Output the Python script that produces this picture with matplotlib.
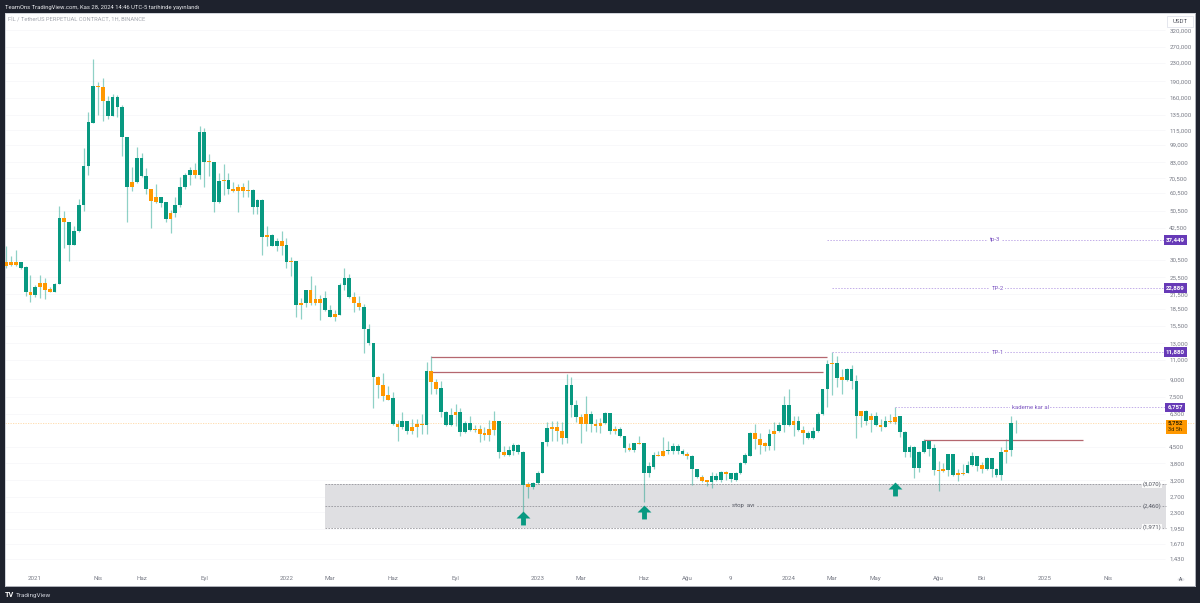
import matplotlib
matplotlib.use("Agg")
import matplotlib.pyplot as plt
from matplotlib.path import Path
from matplotlib.patches import Rectangle, Circle
from matplotlib.ticker import FixedLocator, NullLocator, FuncFormatter

plt.rcParams['font.family'] = ['Roboto', 'DejaVu Sans']

# weekly candles, prices in thousands
highs_k = [
 35.2,31.8,33.8,29.9,28.7,26.2,23.7,26.2,25.4,23.2,
 24.2,53.2,50.6,44.8,43.0,57.2,96.2,138.9,238.8,188.8,
 196.7,163.6,167.0,165.3,149.3,107.6,79.2,97.1,91.3,78.4,
 63.3,66.6,58.4,55.5,50.9,58.4,71.5,74.5,79.2,82.5,
 120.4,118.0,90.4,83.4,74.5,81.7,74.5,68.0,66.6,67.3,
 69.2,63.3,57.2,57.2,43.0,39.9,38.3,41.1,38.3,31.5,
 30.2,20.7,22.5,25.9,23.7,21.4,22.3,19.3,18.3,24.2,
 28.1,26.5,22.0,21.2,19.5,15.89,13.09,9.26,9.55,8.36,
 7.87,5.93,6.40,5.89,5.99,5.99,6.29,10.7,11.4,9.05,
 8.82,6.51,6.67,6.97,6.67,5.89,6.15,5.63,5.63,5.5,
 5.93,6.53,5.89,4.56,4.53,4.69,4.65,4.31,3.15,3.15,
 3.51,4.72,5.79,5.89,5.89,5.79,9.52,9.2,7.29,6.29,
 7.58,6.51,5.99,6.03,6.4,6.36,5.56,5.5,5.05,4.67,
 4.69,5.02,4.67,3.86,4.26,4.33,4.96,4.8,4.69,4.65,
 4.41,4.29,4.15,3.6,3.37,3.2,3.49,3.43,3.51,3.51,
 3.45,3.49,3.86,4.24,5.22,5.69,5.17,4.75,5.43,5.79,
 5.83,7.58,8.11,6.15,6.19,5.6,5.31,5.5,6.44,8.16,
 10.9,11.87,11.4,9.97,10.12,10.42,9.36,6.51,6.56,6.36,
 6.4,5.99,6.19,6.29,6.74,6.15,5.28,4.6,4.53,4.33,
 4.89,4.84,4.65,3.88,3.82,4.2,4.2,3.6,3.79,3.88,
 4.29,4.12,3.86,4.05,4.0,3.64,4.48,4.89,6.15,5.95]

body_top_k = [
 29.9,29.9,29.9,29.9,28.4,22.0,23.2,24.2,24.2,22.7,
 23.9,47.1,47.1,44.8,41.1,53.8,80.0,125.4,181.3,181.3,
 179.4,155.5,162.0,162.0,146.3,107.6,68.0,86.8,86.8,72.2,
 63.3,58.4,58.4,55.5,49.1,53.8,64.6,73.0,76.7,76.7,
 113.2,113.2,84.2,83.4,68.7,69.2,69.2,63.3,64.6,64.6,
 62.5,62.5,56.4,56.4,39.5,39.5,37.1,37.1,35.6,30.2,
 30.2,19.7,22.5,22.5,20.5,20.5,20.7,18.3,17.6,23.7,
 25.4,25.4,20.9,19.7,18.9,15.1,13.09,9.17,8.44,7.63,
 7.4,5.69,5.85,5.85,5.52,5.69,5.69,9.75,9.75,8.77,
 8.19,6.4,6.25,6.4,6.4,5.73,5.73,5.43,5.43,5.17,
 5.38,5.85,5.85,4.29,4.37,4.6,4.6,4.29,3.08,3.12,
 3.46,4.72,5.46,5.52,5.52,5.31,8.44,8.44,6.9,6.11,
 6.27,6.27,5.71,5.77,6.36,6.36,5.42,5.43,5.04,4.47,
 4.67,4.69,4.67,3.69,4.14,4.15,4.33,4.37,4.56,4.56,
 4.32,4.17,4.12,3.59,3.32,3.19,3.35,3.35,3.49,3.49,
 3.43,3.45,3.82,4.14,5.17,5.17,4.89,4.66,5.15,5.3,
 5.63,6.92,6.92,5.85,5.85,5.34,5.19,5.31,6.29,8.11,
 10.5,10.64,10.64,9.17,9.95,9.95,8.82,6.47,6.47,6.17,
 6.15,5.63,5.87,5.89,6.13,6.15,5.26,4.5,4.5,4.28,
 4.8,4.8,4.46,3.55,3.57,4.17,4.19,3.43,3.46,3.75,
 4.1,4.1,3.72,4.0,4.0,3.6,4.28,4.35,5.75,5.75]

body_bottom_k = [
 28.7,29.0,29.0,28.1,22.0,21.4,21.4,23.2,22.5,22.0,
 22.0,23.9,44.8,35.6,35.6,41.1,53.8,80.0,124.2,179.4,
 155.5,133.4,133.4,146.3,107.6,64.6,64.6,68.0,72.2,63.3,
 56.0,55.5,54.9,46.6,46.6,49.1,53.8,64.6,73.0,73.0,
 73.0,83.4,83.4,55.5,55.5,68.7,63.3,62.0,62.0,62.0,
 62.0,52.7,52.7,38.7,38.7,35.2,35.2,35.2,29.9,29.9,
 19.3,19.3,19.7,19.7,19.7,19.7,18.3,17.07,17.07,17.42,
 23.7,20.9,19.7,18.9,15.1,13.09,9.17,8.44,7.55,7.29,
 5.69,5.52,5.5,5.31,5.3,5.5,5.61,5.63,8.77,8.16,
 6.4,5.63,5.63,6.23,5.26,5.26,5.34,5.34,5.15,5.1,
 5.1,5.37,4.29,4.15,4.15,4.33,4.29,3.05,2.97,2.97,
 3.12,3.45,4.72,5.42,5.31,4.92,4.92,6.9,6.11,5.71,
 5.71,5.69,5.56,5.56,5.75,5.28,5.28,5.02,4.43,4.37,
 4.35,4.65,3.44,3.44,3.68,4.11,4.12,4.31,4.33,4.31,
 4.17,4.11,3.58,3.32,3.17,3.13,3.13,3.21,3.21,3.4,
 3.23,3.22,3.44,3.82,4.11,4.89,4.58,4.56,4.56,5.14,
 5.3,5.63,5.63,5.63,5.35,5.19,4.92,4.92,5.3,6.27,
 8.11,10.5,9.14,8.9,8.89,8.82,6.15,6.15,5.89,5.91,
 5.61,5.54,5.54,5.79,5.81,5.26,4.28,4.29,3.64,3.64,
 4.26,4.42,3.54,3.51,3.51,3.55,3.37,3.37,3.42,3.45,
 3.74,3.7,3.57,3.58,3.58,3.37,3.36,4.26,4.35,5.73]

lows_k = [
 28.1,28.7,28.7,27.8,21.2,19.9,20.9,20.7,20.5,22.0,
 22.0,23.9,34.5,30.2,35.6,40.7,50.6,73.0,124.2,134.8,
 126.7,129.4,133.4,132.0,88.6,44.8,62.0,67.3,71.5,60.2,
 42.5,54.9,52.7,44.8,40.3,47.6,52.7,63.3,65.9,70.8,
 70.1,64.6,72.2,50.1,54.9,59.6,60.2,61.4,50.1,58.4,
 58.4,48.6,48.6,32.1,35.2,35.2,33.5,32.1,28.1,25.9,
 17.07,16.73,18.9,19.3,19.3,16.55,18.15,17.07,16.39,17.42,
 22.5,20.7,17.96,18.3,11.71,12.83,6.69,7.4,7.18,7.25,
 5.63,4.79,5.43,5.14,5.14,5.0,5.14,5.14,7.71,7.71,
 6.09,5.6,5.56,5.6,5.02,5.19,5.31,5.26,4.75,4.84,
 4.8,5.09,4.0,4.1,4.12,4.15,4.2,2.3,2.67,2.93,
 3.09,3.44,4.53,4.8,4.8,4.65,4.69,6.09,5.79,4.69,
 5.31,5.26,5.26,5.19,5.69,5.14,5.14,4.97,4.26,4.33,
 4.26,4.63,2.55,3.3,3.58,4.1,4.1,4.2,4.2,4.2,
 4.14,3.99,3.05,3.26,3.14,3.03,2.96,3.18,3.15,3.2,
 3.15,3.17,3.42,3.76,4.1,4.41,4.17,4.33,4.35,4.37,
 5.24,5.26,5.6,5.05,5.31,4.65,4.89,4.89,5.26,6.23,
 6.74,7.65,8.3,7.71,8.82,8.11,4.94,5.54,5.63,5.22,
 5.56,5.31,5.5,5.75,5.69,4.97,4.05,4.05,3.28,3.49,
 4.24,4.08,3.37,2.87,3.49,3.35,3.35,3.17,3.39,3.43,
 3.7,3.52,3.45,3.54,3.31,3.29,3.22,3.82,4.1,5.19]

orange_weeks = [0,1,2,5,7,8,9,12,19,20,26,30,31,34,39,42,45,47,48,49,50,54,57,59,61,63,64,65,68,
                72,73,77,78,79,81,84,85,86,88,89,93,97,98,99,100,101,103,108,113,114,115,119,120,
                122,123,126,129,131,135,136,141,144,145,149,155,156,157,159,163,165,171,173,177,
                179,181,183,184,193,194,197,198,202,207]

price_ticks = [320000,270000,230000,190000,160000,135000,115000,99000,83000,70500,60500,50500,42500,
               30500,25500,21500,18500,15500,13000,11000,9000,7500,6300,4500,3800,3200,2700,2300,
               1950,1670,1430]

date_tick_weeks = [5.9,19,28,41,58,67,80,93,110,119,132,141,150,162,171,180,193,202,215,228]
date_tick_labels = ['2021','Nis','Haz','Eyl','2022','Mar','Haz','Eyl','2023','Mar','Haz','Ağu','9',
                    '2024','Mar','May','Ağu','Eki','2025','Nis']

# (price, start week, label, label position)
target_levels = [(37449,170,'tp-3',204.7),(22889,171,'TP-2',205.3),(11880,171,'TP-1',205.3),(6757,184,'kademe kar al',212)]
resistance_levels = [(11350,88,170),(9700,88,169),(4840,190,223)]
stop_top, stop_mid, stop_bottom = 3070, 2460, 1971
stop_start, stop_end = 66, 240
arrow_weeks = [107,132,184]
arrow_prices = [2170,2320,2930]
last_price = 5752

DARK = '#1e222d'
TEAL = '#089981'
ORANGE = '#ff9800'
PURPLE = '#673ab7'
LBL = '#787b86'

W, H = 1200, 603
fig = plt.figure(figsize=(W/100, H/100), dpi=100, facecolor=DARK)
L, R, T, B = 5, 1195, 13, 586
ax = fig.add_axes([L/W, 1-B/H, (R-L)/W, (B-T)/H], facecolor='white')
ax.set_yscale('log')
ax.set_xlim(-0.27, 246.1)
ax.set_ylim(1083, 382400)

n = len(highs_k)
xs = list(range(n))
colors = [ORANGE if i in orange_weeks else TEAL for i in xs]

ytr = ax.get_yaxis_transform()
ax.hlines(price_ticks, 0, 0.975, transform=ytr, color='#f8f8fa', lw=0.7, zorder=0)

# stop zone
ax.add_patch(Rectangle((stop_start, stop_bottom), stop_end-stop_start, stop_top-stop_bottom,
                       facecolor='#dfdfe2', edgecolor='none', zorder=1))
for p in (stop_top, stop_mid, stop_bottom):
    ax.hlines(p, stop_start, stop_end, color='#96969c', lw=0.6, ls=(0, (2, 1.5)), zorder=1.5)
ax.text(152.6, stop_mid, 'stop  avı', fontsize=4.3, color='#50535e', ha='center', va='center', zorder=2,
        bbox=dict(facecolor='#dfdfe2', edgecolor='none', pad=1.4))
for p, s in ((stop_top, '(3,070)'), (stop_mid, '(2,460)'), (stop_bottom, '(1,971)')):
    ax.text(237.2, p, s, fontsize=4.3, color='#50535e', ha='center', va='center', zorder=2,
            bbox=dict(facecolor='white' if p != stop_mid else '#dfdfe2', edgecolor='none', pad=0.6, alpha=0.85))

# last price line
ax.axhline(last_price, color='#ffd9a6', lw=0.6, ls=(0, (1.5, 1.5)), zorder=1)

# candles
ax.vlines(xs, [v*1000 for v in lows_k], [v*1000 for v in highs_k], color=TEAL, alpha=0.45, lw=0.9, zorder=2)
ax.bar(xs, [(t-b)*1000 for t, b in zip(body_top_k, body_bottom_k)],
       bottom=[b*1000 for b in body_bottom_k], width=0.78, color=colors, linewidth=0, zorder=3)

# levels
for p, x0, x1 in resistance_levels:
    ax.hlines(p, x0, x1, color='#b5676f', lw=0.9, zorder=2.5)
for p, x0, txt, tx in target_levels:
    ax.hlines(p, x0, 240, color='#c3aee9', lw=0.7, ls=(0, (1.5, 1.5)), zorder=2)
    ax.text(tx, p, txt, fontsize=4.3, color='#7e57c2', ha='center', va='center', zorder=3,
            bbox=dict(facecolor='white', edgecolor='none', pad=1.0))

# arrows
arrow = Path([(-0.35,-1),(0.35,-1),(0.35,0),(1,0),(0,1),(-1,0),(-0.35,0),(-0.35,-1)], closed=True)
ax.plot(arrow_weeks, arrow_prices, ls='none', marker=arrow, ms=10, mfc=TEAL, mec='none', zorder=4)

# axes styling
for s in ax.spines.values():
    s.set_color('#c9ccd3')
    s.set_linewidth(0.6)
ax.yaxis.tick_right()
ax.yaxis.set_major_locator(FixedLocator(price_ticks))
ax.yaxis.set_minor_locator(NullLocator())
ax.yaxis.set_major_formatter(FuncFormatter(lambda v, _: f'{int(round(v)):,}'))
ax.tick_params(axis='y', length=0, pad=-18.5, labelsize=4.4, labelcolor=LBL)
ax.xaxis.set_major_locator(FixedLocator(date_tick_weeks))
ax.xaxis.set_major_formatter(FuncFormatter(lambda v, i: date_tick_labels[i] if i is not None and i < len(date_tick_labels) else ''))
ax.xaxis.set_minor_locator(NullLocator())
ax.tick_params(axis='x', length=0, pad=-7.2, labelsize=4.4, labelcolor=LBL)

# price labels on the scale
def price_tag(p, s, face, tc='white', fw='bold'):
    ax.text(0.9835, p, s, transform=ytr, fontsize=4.4, color=tc, fontweight=fw, ha='center', va='center', zorder=6,
            bbox=dict(facecolor=face, edgecolor='none', boxstyle='square,pad=0.35'))
for p, x0, txt, tx in target_levels:
    price_tag(p, f'{p:,}', PURPLE)

ax.add_patch(Rectangle((0.9755, 5140), 0.0175, 5940-5140, transform=ytr, facecolor=ORANGE, edgecolor='none', zorder=6))
ax.text(0.9835, last_price, '5,752', transform=ytr, fontsize=4.3, color='#3a2a00', fontweight='bold',
        ha='center', va='center', zorder=7)
ax.text(0.9835, 5370, '3d 5h', transform=ytr, fontsize=4.1, color='#3a2a00', ha='center', va='center', zorder=7)

# chrome in pixel coordinates
def fx(px): return px/W
def fy(py): return 1-py/H
fig.text(fx(5), fy(7.5), 'TeamOns TradingView.com, Kas 28, 2024 14:46 UTC-5 tarihinde yayınlandı',
         fontsize=4.2, color='#e8e9ec', ha='left', va='center')
fig.text(fx(8.5), fy(20), 'FİL / TetherUS PERPETUAL CONTRACT, 1H, BINANCE', fontsize=4.15, color='#a3a6af', ha='left', va='center')
fig.text(fx(5), fy(595), 'TV', fontsize=5.2, fontweight='bold', color='white', ha='left', va='center')
fig.text(fx(16), fy(595), 'TradingView', fontsize=4.6, color='#d1d4dc', ha='left', va='center')
fig.add_artist(Rectangle((fx(1167), fy(27)), 26/W, 11/H, transform=fig.transFigure, facecolor='white',
                         edgecolor='#e0e3eb', lw=0.6, zorder=8))
fig.text(fx(1180), fy(21.5), 'USDT', fontsize=4.4, color='#50535e', ha='center', va='center', zorder=9)
fig.add_artist(Circle((fx(1181), fy(579.5)), 3.5/W, transform=fig.transFigure, facecolor='#e8e9ec', edgecolor='none', zorder=8))
fig.text(fx(1181), fy(579.5), 'A', fontsize=3.6, color='#50535e', ha='center', va='center', zorder=9)

fig.savefig('out.png', dpi=100, facecolor=DARK)
